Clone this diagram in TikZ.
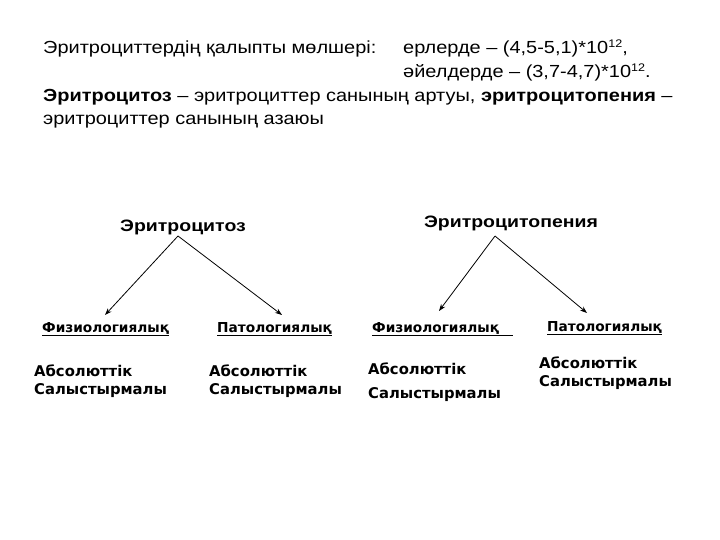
\documentclass[tikz,border=0pt]{standalone}
\usepackage{fontspec}
\setmainfont{Liberation Sans}
\newfontfamily\vfont{DejaVu Sans}
\usetikzlibrary{arrows.meta}
\newcommand\hwide[1]{\scalebox{1.14}[1.0]{#1}}
\newcommand\hwider[1]{\scalebox{1.18}[1.0]{#1}}
\newcommand\supnum[1]{\raisebox{0.75ex}{\fontsize{11}{11}\selectfont #1}}
\begin{document}
\begin{tikzpicture}[x=1pt,y=-1pt,
  txt/.style={inner sep=0pt,anchor=base west,font=\fontsize{17.5}{17.5}\selectfont},
  head/.style={inner sep=0pt,anchor=base,font=\fontsize{16.5}{16.5}\selectfont\bfseries},
  kind/.style={inner sep=0pt,anchor=base west,font=\vfont\fontsize{13.7}{13.7}\selectfont\bfseries},
  item/.style={inner sep=0pt,anchor=base west,font=\vfont\fontsize{14.8}{14.8}\selectfont\bfseries},
  arr/.style={-{Stealth[length=7pt,width=5pt]},line width=0.8pt}]
\useasboundingbox (0,0) rectangle (720,540);
\node[txt] (l1a) at (43,54) {\hwide{Эритроциттердің қалыпты мөлшері:}};
\node[txt] (l1b) at (403,54) {\hwide{ерлерде – (4,5-5,1)*10\supnum{12},}};
\node[txt] (l2) at (403,78) {\hwide{әйелдерде – (3,7-4,7)*10\supnum{12}.}};
\node[txt] (l3) at (43,102) {\hwide{\textbf{Эритроцитоз} – эритроциттер санының артуы, \textbf{эритроцитопения} –}};
\node[txt] (l4) at (43,125) {\hwide{эритроциттер санының азаюы}};

\node[head] (t1) at (183,231) {\hwider{Эритроцитоз}};
\node[head] (t2) at (511,227) {\hwider{Эритроцитопения}};
\coordinate (a1) at (178,236);
\coordinate (a2) at (495,236);

\node[kind] (f1) at (42,332) {\underline{Физиологиялық}};
\node[kind] (p1) at (217,332) {\underline{Патологиялық}};
\node[kind] (f2) at (372,332) {\underline{Физиологиялық\ \ \ }};
\node[kind] (p2) at (547,331) {\underline{Патологиялық}};

\coordinate (e1) at (105,315);
\coordinate (e2) at (282,315);
\coordinate (e3) at (439,311);
\coordinate (e4) at (587,313);
\draw[arr] (a1) -- (e1);
\draw[arr] (a1) -- (e2);
\draw[arr] (a2) -- (e3);
\draw[arr] (a2) -- (e4);

\node[item] (i1) at (34,376) {Абсолюттік};
\node[item] (j1) at (34,394) {Салыстырмалы};
\node[item] (i2) at (209,376) {Абсолюттік};
\node[item] (j2) at (209,394) {Салыстырмалы};
\node[item] (i3) at (368,374) {Абсолюттік};
\node[item] (j3) at (368,398) {Салыстырмалы};
\node[item] (i4) at (539,368) {Абсолюттік};
\node[item] (j4) at (539,386) {Салыстырмалы};
\end{tikzpicture}
\end{document}
